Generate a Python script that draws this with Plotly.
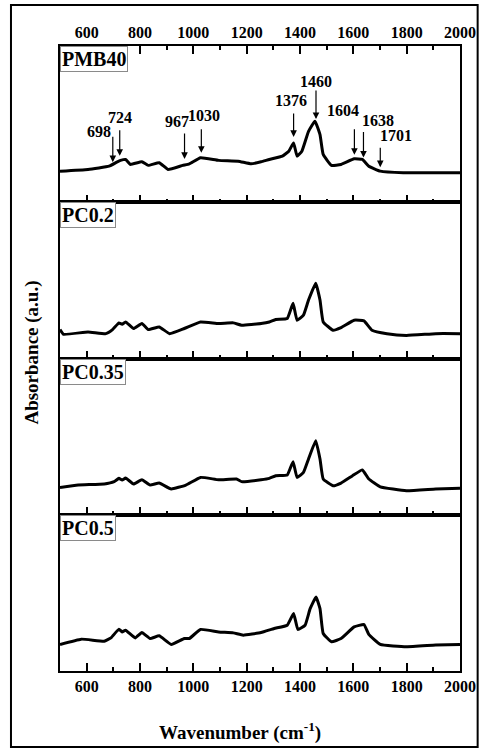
import numpy as np
import plotly.graph_objects as go
from plotly.subplots import make_subplots

# ---------------- data (arbitrary absorbance units) ----------------
sample_names = ["PMB40", "PC0.2", "PC0.35", "PC0.5"]

wn_pmb40 = [500, 605, 684, 715, 727, 746, 764, 807, 831, 872, 905, 960, 985, 1027, 1095, 1168, 1217,
            1254, 1285, 1334, 1358, 1376, 1389, 1407, 1432, 1456, 1475, 1487, 1518, 1554, 1603, 1634,
            1658, 1701, 1787, 2000]
abs_pmb40 = [0.199, 0.210, 0.231, 0.259, 0.268, 0.274, 0.242, 0.259, 0.236, 0.253, 0.210, 0.236, 0.246,
             0.285, 0.268, 0.263, 0.246, 0.259, 0.274, 0.295, 0.327, 0.380, 0.295, 0.327, 0.454, 0.518,
             0.433, 0.306, 0.236, 0.242, 0.278, 0.274, 0.231, 0.199, 0.189, 0.189]

wn_pc02 = [500, 513, 605, 672, 697, 721, 733, 746, 776, 807, 831, 872, 911, 966, 1027, 1095, 1150, 1181,
           1254, 1285, 1309, 1352, 1374, 1389, 1413, 1432, 1459, 1475, 1487, 1524, 1554, 1603, 1640,
           1670, 1726, 1799, 1909, 2000]
abs_pc02 = [0.185, 0.155, 0.170, 0.159, 0.185, 0.228, 0.219, 0.234, 0.192, 0.224, 0.185, 0.202, 0.159,
            0.192, 0.234, 0.224, 0.228, 0.213, 0.224, 0.234, 0.250, 0.256, 0.353, 0.245, 0.277, 0.374,
            0.482, 0.374, 0.234, 0.181, 0.198, 0.245, 0.241, 0.181, 0.159, 0.148, 0.159, 0.159]

wn_pc035 = [500, 568, 666, 703, 721, 733, 746, 776, 807, 838, 872, 917, 972, 1027, 1095, 1162, 1181,
            1254, 1285, 1309, 1352, 1374, 1389, 1413, 1432, 1459, 1475, 1487, 1524, 1554, 1597, 1634,
            1658, 1701, 1799, 1909, 2000]
abs_pc035 = [0.175, 0.190, 0.197, 0.212, 0.233, 0.222, 0.235, 0.197, 0.224, 0.190, 0.203, 0.165, 0.190,
             0.239, 0.224, 0.229, 0.212, 0.224, 0.233, 0.250, 0.254, 0.340, 0.239, 0.271, 0.357, 0.474,
             0.357, 0.229, 0.186, 0.203, 0.250, 0.287, 0.229, 0.179, 0.154, 0.165, 0.169]

wn_pc05 = [500, 580, 666, 691, 721, 733, 746, 782, 807, 838, 872, 917, 966, 985, 1027, 1095, 1150, 1187,
           1254, 1303, 1352, 1376, 1392, 1419, 1438, 1460, 1475, 1487, 1518, 1554, 1603, 1640, 1658,
           1701, 1799, 1909, 2000]
abs_pc05 = [0.170, 0.204, 0.191, 0.212, 0.268, 0.250, 0.261, 0.212, 0.246, 0.208, 0.225, 0.170, 0.208,
            0.208, 0.266, 0.250, 0.244, 0.229, 0.246, 0.272, 0.293, 0.368, 0.266, 0.293, 0.399, 0.473,
            0.399, 0.240, 0.187, 0.208, 0.282, 0.297, 0.234, 0.170, 0.155, 0.166, 0.170]

peak_wavenumbers = [698, 724, 967, 1030, 1376, 1460, 1604, 1638, 1701]
peak_labels = ["698", "724", "967", "1030", "1376", "1460", "1604", "1638", "1701"]

x_tick_values = [600, 800, 1000, 1200, 1400, 1600, 1800, 2000]
x_minor_values = [700, 900, 1100, 1300, 1500, 1700, 1900]

series_x = [wn_pmb40, wn_pc02, wn_pc035, wn_pc05]
series_y = [abs_pmb40, abs_pc02, abs_pc035, abs_pc05]

# ---------------- layout constants ----------------
W, H = 488, 749
ML, MR, MT, MB = 60, 20, 46, 78
PW, PH = W - ML - MR, H - MT - MB
FONT = "Liberation Serif"

# label offsets (pixels) relative to arrow tail: (dx right, dy up to text centre)
label_dx = [-14, 0, -8, 3, -3, 0, -11, 15, 16]
label_dy = [4, 11, 10, 12, 11, 8, 17, 10, 11]
arrow_len = [27, 27, 27, 25, 25, 30, 27, 27, 21]
arrow_gap = [2, 5, 6, 5, 6, 5, 4, 3, 4]

fig = make_subplots(rows=4, cols=1, vertical_spacing=0)

for i, (xs, ys) in enumerate(zip(series_x, series_y)):
    fig.add_trace(go.Scatter(x=xs, y=ys, mode="lines",
                             line=dict(color="black", width=3, shape="spline", smoothing=0.35),
                             showlegend=False, hoverinfo="skip"), row=i + 1, col=1)

panel_h_px = PH / 4
for i in range(4):
    r = i + 1
    xkw = dict(range=[500, 2000], showline=True, linecolor="black", linewidth=1.5,
               ticks="inside", ticklen=8, tickwidth=1.5, tickcolor="black",
               tickmode="array", tickvals=x_tick_values,
               minor=dict(ticks="inside", ticklen=4, tickwidth=1.5, tickcolor="black",
                          tickmode="array", tickvals=x_minor_values),
               showgrid=False, zeroline=False,
               tickfont=dict(family=FONT, size=16, color="black", weight="bold"))
    if r == 1:
        xkw.update(side="top", mirror="ticks", showticklabels=True)
    elif r == 4:
        xkw.update(mirror=True, showticklabels=True)
    else:
        xkw.update(mirror=True, showticklabels=False)
    fig.update_xaxes(row=r, col=1, **xkw)
    fig.update_yaxes(row=r, col=1, range=[0, 1], showline=True, linecolor="black", linewidth=1.5,
                     mirror=True, ticks="", showticklabels=False, showgrid=False, zeroline=False)
    # sample label boxes
    fig.add_annotation(text=sample_names[i], xref=f"x{'' if r == 1 else r} domain",
                       yref=f"y{'' if r == 1 else r} domain", x=0, y=1, xanchor="left", yanchor="top",
                       showarrow=False, bgcolor="white", bordercolor="#8a8a8a", borderwidth=1,
                       borderpad=1, font=dict(family=FONT, size=20, color="black", weight="bold"))

# peak arrows in the top panel
for k, (wn, lab) in enumerate(zip(peak_wavenumbers, peak_labels)):
    yc = float(np.interp(wn, wn_pmb40, abs_pmb40))
    head = yc + arrow_gap[k] / panel_h_px
    tail = head + arrow_len[k] / panel_h_px
    fig.add_annotation(x=wn, y=head, ax=wn, ay=tail, xref="x", yref="y", axref="x", ayref="y",
                       showarrow=True, arrowhead=2, arrowsize=1.1, arrowwidth=1.2, arrowcolor="black",
                       text="")
    fig.add_annotation(x=wn, y=tail, xref="x", yref="y", text=lab, showarrow=False,
                       xanchor="center", yanchor="middle", xshift=label_dx[k], yshift=label_dy[k],
                       borderpad=0,
                       font=dict(family=FONT, size=16, color="black", weight="bold"))

def px2paper(x, y):
    return (x - ML) / PW, (H - MB - y) / PH

# axis titles
tx, ty = px2paper(244, 731)
fig.add_annotation(text="Wavenumber (cm<sup>-1</sup>)", xref="paper", yref="paper", x=tx, y=ty,
                   xanchor="center", yanchor="middle", showarrow=False,
                   font=dict(family=FONT, size=19, color="black", weight="bold"))
tx, ty = px2paper(31, 353)
fig.add_annotation(text="Absorbance (a.u.)", xref="paper", yref="paper", x=tx, y=ty, textangle=-90,
                   xanchor="center", yanchor="middle", showarrow=False,
                   font=dict(family=FONT, size=19, color="black", weight="bold"))

# outer frame
x0, y0 = px2paper(10, 747)
x1, y1 = px2paper(486, 5)
fig.add_shape(type="rect", xref="paper", yref="paper", x0=x0, y0=y0, x1=x1, y1=y1,
              line=dict(color="black", width=2), layer="below")

fig.update_layout(width=W, height=H, margin=dict(l=ML, r=MR, t=MT, b=MB),
                  paper_bgcolor="white", plot_bgcolor="white", showlegend=False)

fig.write_html("out.html", config={"displayModeBar": False},
               post_script="document.body.style.margin='0';document.body.style.overflow='hidden';")
